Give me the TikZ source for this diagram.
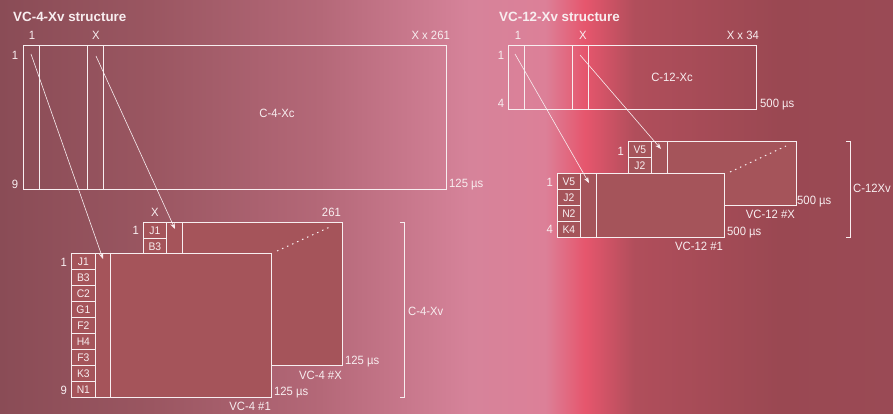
\documentclass[tikz,border=0pt]{standalone}
\usepackage{fontspec}
\setmainfont[FakeStretch=0.94]{Liberation Sans}
\newfontfamily\titlefont{Liberation Sans}
\usetikzlibrary{arrows.meta}
\definecolor{fillr}{HTML}{A5545A}
\definecolor{txt}{HTML}{F8EEF0}
\definecolor{bgA}{HTML}{8A4C56}
\definecolor{bgB}{HTML}{9A5661}
\definecolor{bgC}{HTML}{B46878}
\definecolor{bgD}{HTML}{D6839A}
\definecolor{bgE}{HTML}{DC8098}
\definecolor{bgF}{HTML}{E6566D}
\definecolor{bgG}{HTML}{B04E5B}
\definecolor{bgH}{HTML}{9A4852}
\definecolor{bgI}{HTML}{9A4A55}
\begin{document}
\begin{tikzpicture}[x=1pt,y=-1pt,
  box/.style={draw=txt, line width=0.75pt, inner sep=0pt, anchor=north west},
  pane/.style={box, fill=fillr},
  lab/.style={text=txt, font=\fontsize{12}{13}\selectfont, inner sep=0pt},
  ttl/.style={text=txt, font=\titlefont\bfseries\fontsize{13.4}{15}\selectfont, inner sep=0pt, anchor=west},
  cell/.style={box, fill=fillr, text=txt, font=\fontsize{11}{12}\selectfont, minimum width=23, minimum height=16},
  arr/.style={draw=txt, line width=0.6pt, -{Stealth[length=6pt,width=4.5pt]}},
  dots/.style={draw=txt, line width=1pt, dash pattern=on 1.5pt off 4pt},
  brk/.style={draw=txt, line width=0.8pt},
]
\useasboundingbox (0,0) rectangle (893,414);
% background
\shade[left color=bgA, right color=bgB] (0,0) rectangle (150,414);
\shade[left color=bgB, right color=bgC] (150,0) rectangle (320,414);
\shade[left color=bgC, right color=bgD] (320,0) rectangle (470,414);
\shade[left color=bgD, right color=bgE] (470,0) rectangle (545,414);
\shade[left color=bgE, right color=bgF] (545,0) rectangle (585,414);
\shade[left color=bgF, right color=bgG] (585,0) rectangle (635,414);
\shade[left color=bgG, right color=bgH] (635,0) rectangle (780,414);
\shade[left color=bgH, right color=bgI] (780,0) rectangle (893,414);

% ===== VC-4-Xv =====
\node[ttl] (t4) at (13,17) {VC-4-Xv structure};
\node[box, minimum width=423, minimum height=144] (c4c) at (23,45) {};
\node[box, minimum width=16, minimum height=144] (c4col1) at (23,45) {};
\node[box, minimum width=16, minimum height=144] (c4colx) at (87,45) {};
\node[lab] (c4clab) at (277,113) {C-4-Xc};
\node[lab] (c4l1) at (32,35) {1};
\node[lab] (c4lx) at (96,35) {X};
\node[lab, anchor=east] (c4lxx) at (450,35) {X x 261};
\node[lab] (c4r1) at (15,55) {1};
\node[lab] (c4r9) at (15,184) {9};
\node[lab, anchor=west] (c4t) at (449,185) {125 µs};

% back VC-4 #X
\node[pane, minimum width=199, minimum height=143] (vc4x) at (143,222) {};
\node[cell] (x4j1) at (143,222) {J1};
\node[cell] (x4b3) at (143,238) {B3};
\node[pane, minimum width=16, minimum height=143] (x4col) at (166,222) {};
\node[lab] (x4lx) at (155,212) {X};
\node[lab, anchor=east] (x4l261) at (341,212) {261};
\node[lab, anchor=east] (x4l1) at (139,230) {1};
\node[lab, anchor=west] (x4t) at (345,362) {125 µs};
\node[lab, anchor=east] (x4n) at (342,375) {VC-4 \#X};

% front VC-4 #1
\node[pane, minimum width=200, minimum height=144] (vc41) at (71,253) {};
\foreach \t [count=\i from 0] in {J1,B3,C2,G1,F2,H4,F3,K3,N1}
  \node[cell, minimum width=24] (f4c\i) at (71,253+16*\i) {\t};
\node[pane, minimum width=15, minimum height=144] (f4col) at (95,253) {};
\node[lab, anchor=east] (f4l1) at (67,262) {1};
\node[lab, anchor=east] (f4l9) at (67,390) {9};
\node[lab, anchor=west] (f4t) at (274,393) {125 µs};
\node[lab, anchor=east] (f4n) at (271,406) {VC-4 \#1};
\coordinate (d4a) at (277,251);
\coordinate (d4b) at (332,226);
\draw[dots] (d4a) -- (d4b);

% bracket
\coordinate (b4a) at (400,222);
\coordinate (b4b) at (404,222);
\coordinate (b4c) at (404,397);
\coordinate (b4d) at (400,397);
\draw[brk] (b4a) -- (b4b) -- (b4c) -- (b4d);
\node[lab, anchor=west] (c4v) at (408,311) {C-4-Xv};

% arrows
\coordinate (a1s) at (31,54);
\coordinate (a1e) at (103,259);
\coordinate (a2s) at (96,56);
\coordinate (a2e) at (175,229);
\draw[arr] (a1s) -- (a1e);
\draw[arr] (a2s) -- (a2e);

% ===== VC-12-Xv =====
\node[ttl] (t12) at (499,17) {VC-12-Xv structure};
\node[box, minimum width=248, minimum height=64] (c12c) at (508,45) {};
\node[box, minimum width=16, minimum height=64] (c12col1) at (508,45) {};
\node[box, minimum width=16, minimum height=64] (c12colx) at (572,45) {};
\node[lab] (c12clab) at (672,77) {C-12-Xc};
\node[lab] (c12l1) at (518,35) {1};
\node[lab] (c12lx) at (583,35) {X};
\node[lab, anchor=east] (c12lxx) at (759,35) {X x 34};
\node[lab] (c12r1) at (501,55) {1};
\node[lab] (c12r4) at (501,103) {4};
\node[lab, anchor=west] (c12t) at (760,105) {500 µs};

% back VC-12 #X
\node[pane, minimum width=168, minimum height=64] (vc12x) at (628,141) {};
\node[cell] (x12v5) at (628,141) {V5};
\node[cell] (x12j2) at (628,157) {J2};
\node[pane, minimum width=16, minimum height=64] (x12col) at (651,141) {};
\node[lab, anchor=east] (x12l1) at (624,151) {1};
\node[lab, anchor=west] (x12t) at (797,202) {500 µs};
\node[lab, anchor=east] (x12n) at (795,214) {VC-12 \#X};

% front VC-12 #1
\node[pane, minimum width=167, minimum height=64] (vc121) at (557,173) {};
\foreach \t [count=\i from 0] in {V5,J2,N2,K4}
  \node[cell] (f12c\i) at (557,173+16*\i) {\t};
\node[pane, minimum width=16, minimum height=64] (f12col) at (580,173) {};
\node[lab, anchor=east] (f12l1) at (553,182) {1};
\node[lab, anchor=east] (f12l4) at (553,229) {4};
\node[lab, anchor=west] (f12t) at (727,233) {500 µs};
\node[lab, anchor=east] (f12n) at (723,246) {VC-12 \#1};
\coordinate (d12a) at (730,172);
\coordinate (d12b) at (786,146);
\draw[dots] (d12a) -- (d12b);

% bracket
\coordinate (b12a) at (846,141);
\coordinate (b12b) at (850,141);
\coordinate (b12c) at (850,237);
\coordinate (b12d) at (846,237);
\draw[brk] (b12a) -- (b12b) -- (b12c) -- (b12d);
\node[lab, anchor=west] (c12v) at (853,188) {C-12Xv};

% arrows
\coordinate (a3s) at (515,54);
\coordinate (a3e) at (589,183);
\coordinate (a4s) at (580,55);
\coordinate (a4e) at (661,149);
\draw[arr] (a3s) -- (a3e);
\draw[arr] (a4s) -- (a4e);
\end{tikzpicture}
\end{document}
